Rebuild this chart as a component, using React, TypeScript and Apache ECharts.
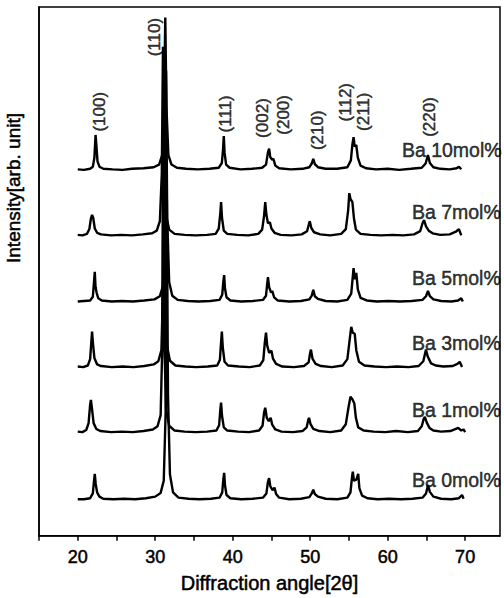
import React, { useEffect, useRef } from 'react';
import * as echarts from 'echarts';

const FONT = '"Liberation Sans", Arial, Helvetica, sans-serif';

const sampleNames = ['Ba 0mol%', 'Ba 1mol%', 'Ba 3mol%', 'Ba 5mol%', 'Ba 7mol%', 'Ba 10mol%'];
// vertical stacking offset of each pattern (arb. units)
const offsets = [6.6, 19.3, 31.6, 44.0, 56.5, 69.0];
// label anchors [2theta, intensity]
const sampleLabelX = [63.13, 63.13, 63.13, 63.13, 63.13, 61.84];
const sampleLabelY = [10.6, 23.8, 36.5, 48.8, 61.2, 73.0];

const peakLabels = ['(100)', '(110)', '(111)', '(002)', '(200)', '(210)', '(112)', '(211)', '(220)'];
const peakLabelX = [22.87, 29.97, 39.1, 43.8, 46.5, 51.0, 54.6, 56.9, 65.45];
const peakLabelY = [80.2, 94.3, 79.8, 79.0, 79.6, 76.7, 82.0, 80.2, 79.2];

const xTickLabels = [20, 30, 40, 50, 60, 70];

const ba0 = [[20.0,0.3],[20.8,0.3],[21.6,0.5],[21.95,1.4],[22.1,3.8],[22.2,5.1],[22.32,3.2],[22.5,1.6],[22.8,0.8],[23.3,0.4],[24.6,0.3],[26.0,0.4],[27.4,0.3],[28.8,0.5],[30.0,0.8],[30.7,1.5],[31.1,3.8],[31.35,17],[31.5,57],[31.65,20],[31.9,5],[32.3,1.6],[33.0,0.6],[34.3,0.4],[35.7,0.3],[37.2,0.4],[38.3,0.6],[38.65,1.6],[38.8,4.2],[38.9,5.3],[39.0,3.0],[39.2,1.1],[39.7,0.5],[41.1,0.3],[42.6,0.4],[43.9,0.6],[44.35,1.4],[44.55,3.6],[44.7,4.3],[44.85,2.8],[45.15,2.0],[45.4,2.5],[45.6,1.3],[46.0,0.6],[47.3,0.3],[48.8,0.4],[49.9,0.7],[50.2,1.4],[50.4,2.1],[50.6,1.3],[51.0,0.8],[52.0,0.4],[53.5,0.3],[54.8,0.6],[55.2,1.6],[55.4,4.5],[55.5,5.5],[55.65,3.8],[55.95,4.0],[56.2,5.1],[56.35,2.4],[56.7,1.0],[57.4,0.5],[58.7,0.3],[60.2,0.4],[61.7,0.3],[63.2,0.4],[64.5,0.6],[64.95,1.4],[65.15,2.6],[65.2,3.0],[65.45,1.7],[65.9,0.8],[66.9,0.4],[68.2,0.3],[69.2,0.5],[69.6,1.1],[69.8,0.4]];

const ba1 = [[20.0,0.4],[20.6,0.3],[21.1,0.7],[21.4,2.0],[21.6,5.5],[21.7,6.4],[21.85,4.6],[22.05,2.0],[22.4,0.9],[22.9,0.5],[24.3,0.3],[25.7,0.4],[27.1,0.3],[28.5,0.5],[29.7,0.8],[30.3,1.4],[30.7,3.5],[30.9,16],[31.0,54],[31.15,19],[31.4,4.5],[31.8,1.5],[32.5,0.6],[33.8,0.4],[35.2,0.3],[36.7,0.4],[37.9,0.6],[38.25,1.6],[38.4,4.5],[38.5,5.9],[38.62,3.4],[38.85,1.2],[39.3,0.6],[40.7,0.4],[42.1,0.3],[43.4,0.6],[43.85,1.5],[44.05,4.0],[44.2,4.9],[44.4,3.0],[44.65,2.4],[44.9,3.0],[45.1,1.7],[45.5,0.8],[46.3,0.4],[47.8,0.3],[49.0,0.5],[49.55,1.2],[49.75,2.6],[49.85,3.0],[50.05,1.8],[50.4,0.9],[51.2,0.5],[52.6,0.3],[54.0,0.6],[54.6,1.8],[54.95,5.0],[55.2,7.0],[55.45,6.5],[55.7,5.7],[55.9,3.0],[56.2,1.2],[56.9,0.6],[58.2,0.4],[59.7,0.3],[61.1,0.5],[62.6,0.3],[63.9,0.5],[64.4,1.4],[64.65,2.8],[64.8,3.2],[65.05,2.1],[65.4,1.1],[65.9,0.6],[66.9,0.4],[68.1,0.5],[68.8,0.9],[69.1,1.1],[69.5,0.6],[69.8,0.8],[70.0,0.3]];

const ba3 = [[20.0,0.4],[20.7,0.3],[21.3,0.6],[21.6,1.8],[21.75,5],[21.85,7.0],[21.95,5],[22.15,2.0],[22.5,0.8],[23.0,0.5],[24.4,0.3],[25.8,0.4],[27.2,0.3],[28.6,0.5],[29.8,0.8],[30.4,1.4],[30.8,3.5],[31.0,15],[31.1,50],[31.25,18],[31.5,4.5],[31.9,1.5],[32.6,0.6],[33.9,0.4],[35.3,0.3],[36.8,0.4],[38.0,0.6],[38.35,1.7],[38.5,5],[38.6,7.0],[38.72,4],[38.95,1.3],[39.4,0.6],[40.8,0.4],[42.2,0.3],[43.5,0.6],[43.95,1.6],[44.15,5],[44.3,6.8],[44.45,4.4],[44.7,3.0],[45.0,3.4],[45.2,1.9],[45.6,0.9],[46.4,0.4],[47.9,0.3],[49.2,0.5],[49.8,1.2],[50.0,3.0],[50.1,3.6],[50.3,1.9],[50.7,0.9],[51.4,0.5],[52.8,0.3],[54.2,0.6],[54.8,1.8],[55.1,5.5],[55.3,7.9],[55.5,6.8],[55.75,6.6],[55.95,3.5],[56.3,1.3],[57.0,0.6],[58.3,0.4],[59.8,0.3],[61.2,0.4],[62.7,0.3],[64.0,0.5],[64.6,1.4],[64.85,3.0],[64.95,3.6],[65.15,2.4],[65.3,1.9],[65.6,1.0],[66.2,0.6],[67.2,0.4],[68.4,0.5],[69.0,0.9],[69.3,1.3],[69.6,0.3]];

const ba5 = [[20.0,0.3],[20.8,0.4],[21.6,0.5],[21.95,1.2],[22.1,4],[22.2,5.9],[22.3,3.0],[22.45,1.9],[22.65,0.9],[23.1,0.5],[24.4,0.3],[25.7,0.4],[27.1,0.3],[28.6,0.5],[29.9,0.7],[30.6,1.3],[31.0,3.2],[31.25,14],[31.4,44],[31.55,16],[31.8,4],[32.2,1.4],[32.9,0.6],[34.2,0.4],[35.6,0.3],[37.1,0.4],[38.3,0.6],[38.65,1.6],[38.8,4.2],[38.9,5.3],[39.0,2.8],[39.2,1.1],[39.7,0.5],[41.1,0.3],[42.6,0.4],[43.9,0.6],[44.3,1.4],[44.45,3.6],[44.55,4.9],[44.7,3.0],[44.95,2.0],[45.1,2.3],[45.35,1.1],[45.8,0.5],[47.3,0.3],[48.8,0.4],[49.9,0.7],[50.2,1.4],[50.4,2.5],[50.6,1.3],[51.0,0.8],[52.0,0.4],[53.5,0.3],[54.8,0.6],[55.3,1.8],[55.5,5],[55.6,6.6],[55.75,4.5],[55.95,5.7],[56.15,2.6],[56.5,1.0],[57.3,0.5],[58.6,0.3],[60.1,0.4],[61.6,0.3],[63.1,0.4],[64.5,0.6],[64.95,1.3],[65.2,2.3],[65.45,1.3],[65.9,0.7],[66.9,0.4],[68.2,0.3],[69.1,0.5],[69.5,0.9],[69.7,0.3]];

const ba7 = [[20.0,0.4],[20.6,0.3],[21.2,0.6],[21.5,1.5],[21.7,3.5],[21.85,4.2],[22.0,3.6],[22.2,1.6],[22.5,0.8],[23.0,0.5],[24.3,0.3],[25.6,0.4],[27.0,0.3],[28.4,0.5],[29.6,0.7],[30.2,1.2],[30.6,3],[30.85,12],[31.0,36],[31.15,14],[31.4,4],[31.8,1.4],[32.5,0.6],[33.8,0.4],[35.2,0.3],[36.7,0.4],[37.8,0.6],[38.2,1.6],[38.4,4.5],[38.5,6.6],[38.62,3.6],[38.85,1.2],[39.3,0.6],[40.6,0.4],[42.0,0.3],[43.3,0.6],[43.8,1.4],[44.05,4],[44.2,6.6],[44.35,4.2],[44.55,2.6],[44.8,2.8],[45.0,1.6],[45.4,0.8],[46.2,0.4],[47.6,0.3],[48.9,0.5],[49.6,1.1],[49.85,2.5],[49.95,3.0],[50.15,1.7],[50.5,0.9],[51.3,0.5],[52.6,0.3],[54.0,0.6],[54.6,1.5],[54.9,5],[55.05,8.3],[55.2,7.2],[55.45,6.6],[55.65,3.5],[55.9,1.4],[56.5,0.6],[57.8,0.4],[59.2,0.3],[60.6,0.4],[62.0,0.3],[63.4,0.5],[64.2,1.1],[64.5,2.6],[64.7,3.2],[64.95,2.0],[65.3,1.2],[65.8,0.7],[66.8,0.4],[68.0,0.5],[68.8,1.0],[69.2,1.5],[69.5,0.3]];

const ba10 = [[20.0,0.3],[20.8,0.2],[21.6,0.4],[21.95,0.8],[22.15,2.5],[22.3,6.8],[22.4,5.0],[22.55,1.8],[22.8,0.8],[23.3,0.4],[24.5,0.3],[25.8,0.2],[27.0,0.4],[28.5,0.5],[29.8,0.7],[30.5,1.2],[30.9,3],[31.1,10],[31.3,29],[31.45,12],[31.7,3],[32.1,1.2],[32.8,0.6],[34.0,0.4],[35.5,0.3],[37.0,0.4],[38.2,0.6],[38.6,1.5],[38.75,4],[38.85,6.6],[38.95,3.5],[39.15,1.2],[39.6,0.6],[41.0,0.3],[42.5,0.4],[43.8,0.6],[44.3,1.2],[44.55,3.5],[44.7,4.2],[44.85,2.6],[45.1,2.1],[45.25,2.3],[45.5,1.0],[46.0,0.5],[47.5,0.3],[49.0,0.4],[49.9,0.7],[50.2,1.4],[50.4,2.3],[50.6,1.3],[51.0,0.7],[52.0,0.4],[53.5,0.4],[54.8,0.7],[55.25,2.0],[55.45,5],[55.6,6.4],[55.75,4.6],[55.95,4.9],[56.15,2.5],[56.5,1.0],[57.2,0.5],[58.5,0.3],[60.0,0.4],[61.5,0.2],[63.0,0.4],[64.4,0.6],[64.9,1.4],[65.2,3.0],[65.45,1.5],[65.9,0.7],[66.8,0.4],[68.0,0.3],[68.9,0.5],[69.2,0.8],[69.5,0.3]];

const traces = [ba0, ba1, ba3, ba5, ba7, ba10];

export default function App() {
  const ref = useRef<HTMLDivElement>(null);
  useEffect(() => {
    if (!ref.current) return;
    const chart = echarts.init(ref.current, undefined, { renderer: 'svg' });
    const heavy = { textBorderColor: '#000', textBorderWidth: 0.5 };
    const lineSeries = traces.map((t, i) => ({
      type: 'line',
      name: sampleNames[i],
      data: t.map((p) => [p[0], p[1] + offsets[i]]),
      showSymbol: false,
      symbol: 'none',
      clip: false,
      lineStyle: { color: '#000', width: 2.4 },
      z: 2,
    }));
    const option = {
      animation: false,
      backgroundColor: '#fff',
      grid: { left: 39, right: 4, top: 7, bottom: 62, show: true, borderColor: '#000', borderWidth: 1.5 },
      xAxis: {
        type: 'value',
        min: 15,
        max: 74.5,
        interval: 5,
        axisLine: { show: true, lineStyle: { color: '#000', width: 1.5 } },
        axisTick: { show: true, length: 5, lineStyle: { color: '#000', width: 1.5 } },
        axisLabel: {
          color: '#000',
          fontSize: 18,
          fontFamily: FONT,
          margin: 12,
          showMaxLabel: false,
          ...heavy,
          formatter: (v: number) => (xTickLabels.indexOf(v) >= 0 ? String(v) : ''),
        },
        splitLine: { show: false },
        name: 'Diffraction angle[2θ]',
        nameLocation: 'middle',
        nameGap: 37,
        nameTextStyle: { fontSize: 20, color: '#000', fontFamily: FONT, ...heavy },
      },
      yAxis: {
        type: 'value',
        min: 0,
        max: 100,
        axisLine: { show: true, lineStyle: { color: '#000', width: 1.5 } },
        axisTick: { show: false },
        axisLabel: { show: false },
        splitLine: { show: false },
      },
      graphic: [
        {
          type: 'text',
          x: 13,
          y: 188,
          rotation: Math.PI / 2,
          style: {
            text: 'Intensity[arb. unit]',
            fontSize: 19,
            fontFamily: FONT,
            fill: '#000',
            stroke: '#000',
            lineWidth: 0.5,
            align: 'center',
            verticalAlign: 'middle',
          },
        },
      ],
      series: [
        ...lineSeries,
        {
          type: 'scatter',
          symbolSize: 0,
          silent: true,
          z: 5,
          data: peakLabels.map((n, i) => ({ value: [peakLabelX[i], peakLabelY[i]], name: n })),
          label: {
            show: true,
            position: 'inside',
            rotate: 90,
            formatter: (p: any) => p.name,
            color: '#000',
            fontSize: 17,
            fontFamily: FONT,
            ...heavy,
            align: 'center',
            verticalAlign: 'middle',
          },
        },
        {
          type: 'scatter',
          symbolSize: 0,
          silent: true,
          z: 5,
          data: sampleNames.map((n, i) => ({ value: [sampleLabelX[i], sampleLabelY[i]], name: n })),
          label: {
            show: true,
            position: 'inside',
            formatter: (p: any) => p.name,
            color: '#000',
            fontSize: 19.5,
            fontFamily: FONT,
            ...heavy,
            align: 'left',
            verticalAlign: 'middle',
          },
        },
      ],
    };
    chart.setOption(option as any);
    return () => chart.dispose();
  }, []);
  return <div ref={ref} style={{ position: 'absolute', left: 0, top: 0, width: 504, height: 598 }} />;
}
